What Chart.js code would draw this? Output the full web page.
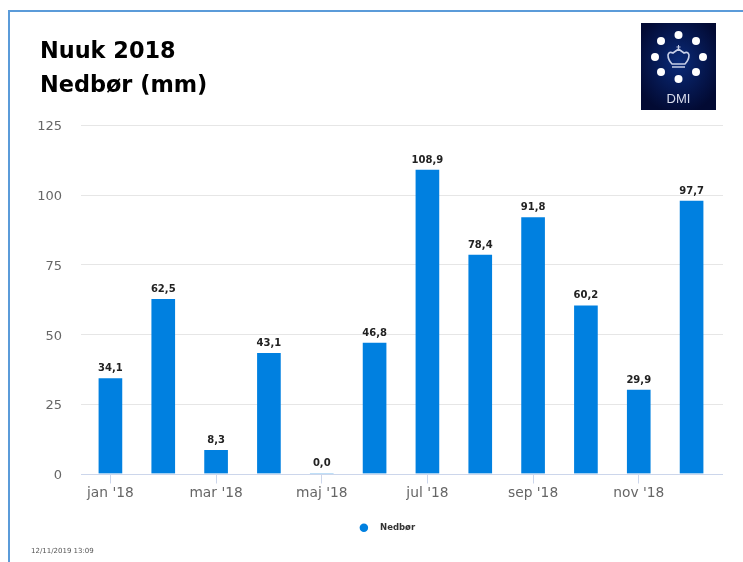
<!DOCTYPE html>
<html lang="da">
<head>
<meta charset="utf-8">
<title>Nuuk 2018 Nedbør</title>
<script src="https://cdn.jsdelivr.net/npm/chart.js@4/dist/chart.umd.min.js"></script>
<style>
    html, body { margin: 0; padding: 0; background: #fff; overflow: hidden; }
    #frame { position: absolute; left: 8px; top: 10px; width: 735px; height: 552px; border-left: 2px solid #5b9bd9; border-top: 2px solid #5b9bd9; box-sizing: border-box; }
    #wrap { position: absolute; left: 10px; top: 12px; width: 733px; height: 550px; }
    #logo { position: absolute; left: 641px; top: 23px; width: 75px; height: 87px; }
    #stamp { position: absolute; left: 31px; top: 547px; font: 7px "DejaVu Sans", sans-serif; color: #555; }
</style>
</head>
<body>
<div id="frame"></div>
<div id="wrap"><canvas id="chart" width="733" height="550"></canvas></div>
<svg id="logo" viewBox="0 0 75 87">
    <defs>
        <radialGradient id="bg" cx="50%" cy="45%" r="60%">
            <stop offset="0%" stop-color="#0a2a78"/>
            <stop offset="100%" stop-color="#020a33"/>
        </radialGradient>
    </defs>
    <rect width="75" height="87" fill="url(#bg)"/>
    <g fill="#fff">
        <circle cx="37.5" cy="12" r="4"/><circle cx="55" cy="18" r="4"/><circle cx="62" cy="34" r="4"/><circle cx="55" cy="49" r="4"/>
        <circle cx="37.5" cy="56" r="4"/><circle cx="20" cy="49" r="4"/><circle cx="14" cy="34" r="4"/><circle cx="20" cy="18" r="4"/>
    </g>
    <path d="M27 32 Q28 28 32 30 L37.5 26 L43 30 Q47 28 48 32 Q48 37 44 41 L31 41 Q27 37 27 32 Z M31 44 H44" fill="none" stroke="#c8d0e8" stroke-width="1.6"/>
    <path d="M37.5 22 V27 M35.5 24 H39.5" stroke="#c8d0e8" stroke-width="1"/>
    <text x="37.5" y="80" text-anchor="middle" font-family="Liberation Sans" font-size="13" fill="#d8dcec">DMI</text>
</svg>
<div id="stamp">12/11/2019 13:09</div>
<script>
    // Chart data
    const months = ["jan '18", "feb '18", "mar '18", "apr '18", "maj '18", "jun '18", "jul '18", "aug '18", "sep '18", "okt '18", "nov '18", "dec '18"];
    const precipitation = [34.1, 62.5, 8.3, 43.1, 0.0, 46.8, 108.9, 78.4, 91.8, 60.2, 29.9, 97.7];
    const yTicks = [0, 25, 50, 75, 100, 125];

    const formatValue = val => val.toFixed(1).replace('.', ',');

    // Value labels above the bars and gridlines running a little past the plot
    const valueLabels = {
        id: 'valueLabels',
        afterDatasetsDraw(chart) {
            const { ctx } = chart;
            ctx.save();
            ctx.font = 'bold 10px "DejaVu Sans"';
            ctx.fillStyle = '#222';
            ctx.textAlign = 'center';
            ctx.textBaseline = 'bottom';
            chart.getDatasetMeta(0).data.forEach((bar, i) => {
                ctx.fillText(formatValue(precipitation[i]), bar.x, bar.y - 5);
            });
            ctx.restore();
        }
    };
    const longGrid = {
        id: 'longGrid',
        afterLayout(chart) {
            // y labels start left of the title edge, widen the scale box so they don't get clipped
            chart.scales.y.left -= 10;
            // legend sits a bit right of the plot centre
            chart.legend.left += 9;
            chart.legend.right += 9;
        },
        beforeDatasetsDraw(chart) {
            const { ctx, scales: { y }, chartArea } = chart;
            ctx.save();
            yTicks.forEach(t => {
                const py = Math.round(y.getPixelForValue(t)) + 0.5;
                ctx.strokeStyle = t === 0 ? '#ccd6eb' : '#e6e6e6';
                ctx.lineWidth = 1;
                ctx.beginPath();
                ctx.moveTo(chartArea.left - 3, py);
                ctx.lineTo(chartArea.right + 5, py);
                ctx.stroke();
            });
            ctx.restore();
        }
    };

    new Chart(document.getElementById('chart'), {
        type: 'bar',
        data: {
            labels: months,
            datasets: [{
                label: 'Nedbør',
                data: precipitation,
                backgroundColor: '#0080e0',
                borderWidth: 0,
                barThickness: 23
            }]
        },
        plugins: [longGrid, valueLabels],
        options: {
            responsive: false,
            animation: false,
            layout: { padding: { left: 30, right: 25, top: 23, bottom: 20 } },
            plugins: {
                tooltip: { enabled: false },
                title: {
                    display: true,
                    text: ['Nuuk 2018', 'Nedbør (mm)'],
                    align: 'start',
                    color: '#000',
                    font: { family: 'DejaVu Sans', size: 22.4, weight: 'bold', lineHeight: 1.52 },
                    padding: { top: 0, bottom: 22 }
                },
                legend: {
                    position: 'bottom',
                    labels: {
                        usePointStyle: true,
                        pointStyle: 'circle',
                        boxWidth: 6,
                        boxHeight: 6,
                        color: '#333',
                        font: { family: 'DejaVu Sans', size: 8.5, weight: 'bold' },
                        generateLabels(chart) {
                            return Chart.defaults.plugins.legend.labels.generateLabels(chart)
                                .map(item => ({ ...item, text: '\u2002\u2009 ' + item.text }));
                        }
                    }
                }
            },
            scales: {
                x: {
                    grid: {
                        offset: false,
                        drawOnChartArea: false,
                        tickLength: 10,
                        tickColor: ctx => (ctx.index % 2 === 0 ? '#ccd6eb' : 'transparent')
                    },
                    border: { display: false },
                    ticks: {
                        autoSkip: false,
                        maxRotation: 0,
                        padding: 2,
                        color: '#666',
                        font: { family: 'DejaVu Sans', size: 13.8 },
                        callback(value, index) {
                            return index % 2 === 0 ? months[index] : '';
                        }
                    },
                    afterFit(scale) { scale.height = 40; }
                },
                y: {
                    min: 0,
                    max: 125,
                    afterBuildTicks(scale) { scale.ticks = yTicks.map(value => ({ value })); },
                    grid: { display: false, drawTicks: false },
                    border: { display: false },
                    ticks: {
                        padding: 22,
                        labelOffset: 2,
                        color: '#666',
                        font: { family: 'DejaVu Sans', size: 13 }
                    },
                    afterFit(scale) { scale.width = 44; }
                }
            }
        }
    });
</script>
</body>
</html>
